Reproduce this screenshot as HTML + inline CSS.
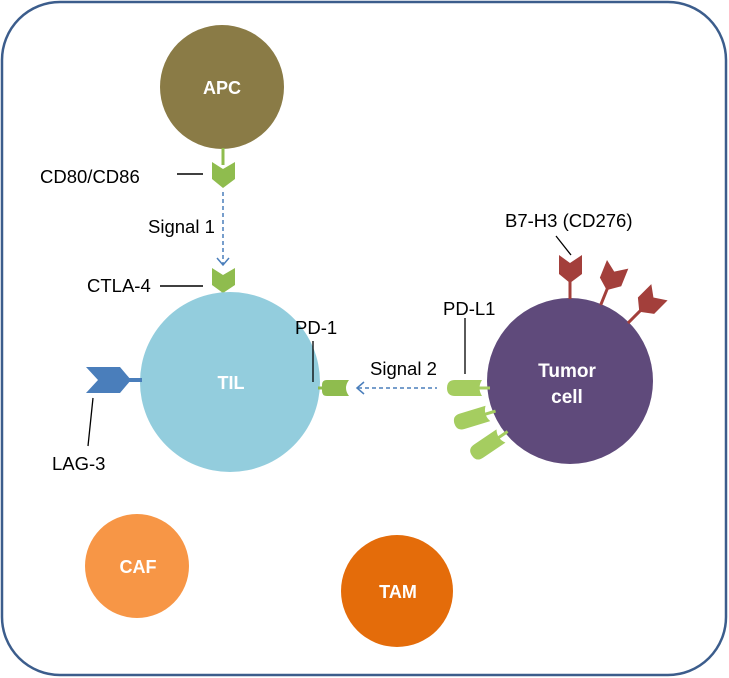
<!DOCTYPE html>
<html><head><style>body{margin:0;background:#fff}svg{display:block}text{font-family:"Liberation Sans",Arial,sans-serif}</style></head><body>
<svg width="729" height="678" viewBox="0 0 729 678" xmlns="http://www.w3.org/2000/svg">
<rect x="2" y="2" width="724" height="673" rx="58" fill="#fff" stroke="#3c5d8c" stroke-width="2.5"/>
<!-- APC -->
<circle cx="222" cy="87" r="62" fill="#8a7b46"/>
<text x="222" y="94" font-size="18" font-weight="bold" fill="#fff" text-anchor="middle">APC</text>
<line x1="223" y1="148" x2="223" y2="165" stroke="#8fbc4e" stroke-width="3"/>
<polygon points="212,162 223,169 235,162 235,179 223,188 212,179" fill="#8fbc4e"/>
<line x1="223" y1="192" x2="223" y2="264" stroke="#4a7ebb" stroke-width="1.5" stroke-dasharray="4,3"/>
<polyline points="217,258 223,265 229,258" fill="none" stroke="#4a7ebb" stroke-width="1.5"/>
<polygon points="212,268 223,275 235,268 235,285 223,293 212,285" fill="#8fbc4e"/>
<line x1="223" y1="290" x2="223" y2="300" stroke="#8fbc4e" stroke-width="3"/>
<!-- TIL -->
<circle cx="230" cy="382" r="90" fill="#93cddd"/>
<text x="231" y="389" font-size="18" font-weight="bold" fill="#fff" text-anchor="middle">TIL</text>
<!-- LAG-3 -->
<polygon points="86,367 120,367 131,380 120,393 86,393 98,380" fill="#4a7ebb"/>
<line x1="128" y1="380" x2="142" y2="380" stroke="#4a7ebb" stroke-width="4"/>
<line x1="93" y1="398" x2="88" y2="446" stroke="#000" stroke-width="1.3"/>
<text x="52" y="470" font-size="18.5">LAG-3</text>
<!-- PD-1 -->
<line x1="318" y1="388" x2="324" y2="388" stroke="#8fbc4e" stroke-width="3"/>
<path d="M322,385 Q322,380 327,380 L349,380 Q343,388 349,396 L327,396 Q322,396 322,391 Z" fill="#8fbc4e"/>
<line x1="313" y1="341" x2="313" y2="382" stroke="#000" stroke-width="1.3"/>
<text x="295" y="334" font-size="18.5">PD-1</text>
<!-- Signal 2 -->
<line x1="358" y1="388" x2="437" y2="388" stroke="#4a7ebb" stroke-width="1.5" stroke-dasharray="4,3"/>
<polyline points="364,382 357,388 364,394" fill="none" stroke="#4a7ebb" stroke-width="1.5"/>
<text x="370" y="375" font-size="18.5">Signal 2</text>
<!-- Tumor -->
<circle cx="570" cy="381" r="83" fill="#5f4a7b"/>
<text x="567" y="377" font-size="19" font-weight="bold" fill="#fff" text-anchor="middle">Tumor</text>
<text x="567" y="403" font-size="19" font-weight="bold" fill="#fff" text-anchor="middle">cell</text>
<g id="pdl"><path d="M482,380 L455,380 Q447,380 447,388 Q447,396 455,396 L482,396 Q477,388 482,380 Z" fill="#a5cd60"/><line x1="478" y1="388" x2="490" y2="388" stroke="#a5cd60" stroke-width="3"/></g>
<use href="#pdl" transform="rotate(-17 570 381)"/>
<use href="#pdl" transform="rotate(-34 570 381)"/>
<line x1="465" y1="318" x2="465" y2="374" stroke="#000" stroke-width="1.3"/>
<text x="443" y="315" font-size="18.5">PD-L1</text>
<!-- B7-H3 -->
<g id="b7"><line x1="570" y1="278" x2="570" y2="299" stroke="#a33f3b" stroke-width="3"/><polygon points="559,255 570,263 582,255 582,274 570,283 559,274" fill="#a33f3b"/></g>
<use href="#b7" transform="rotate(22 570 381)"/>
<use href="#b7" transform="rotate(45 570 381)"/>
<line x1="556" y1="236" x2="571" y2="255" stroke="#000" stroke-width="1.3"/>
<text x="505" y="227" font-size="18.5">B7-H3 (CD276)</text>
<!-- labels left -->
<text x="40" y="183" font-size="18.5">CD80/CD86</text>
<line x1="177" y1="174" x2="203" y2="174" stroke="#000" stroke-width="1.5"/>
<text x="148" y="233" font-size="18.5">Signal 1</text>
<text x="87" y="292" font-size="18.5">CTLA-4</text>
<line x1="160" y1="286" x2="203" y2="286" stroke="#000" stroke-width="1.5"/>
<!-- CAF TAM -->
<circle cx="137" cy="566" r="52" fill="#f79646"/>
<text x="138" y="573" font-size="18" font-weight="bold" fill="#fff" text-anchor="middle">CAF</text>
<circle cx="397" cy="591" r="56" fill="#e46c0a"/>
<text x="398" y="598" font-size="18" font-weight="bold" fill="#fff" text-anchor="middle">TAM</text>
</svg>
</body></html>
